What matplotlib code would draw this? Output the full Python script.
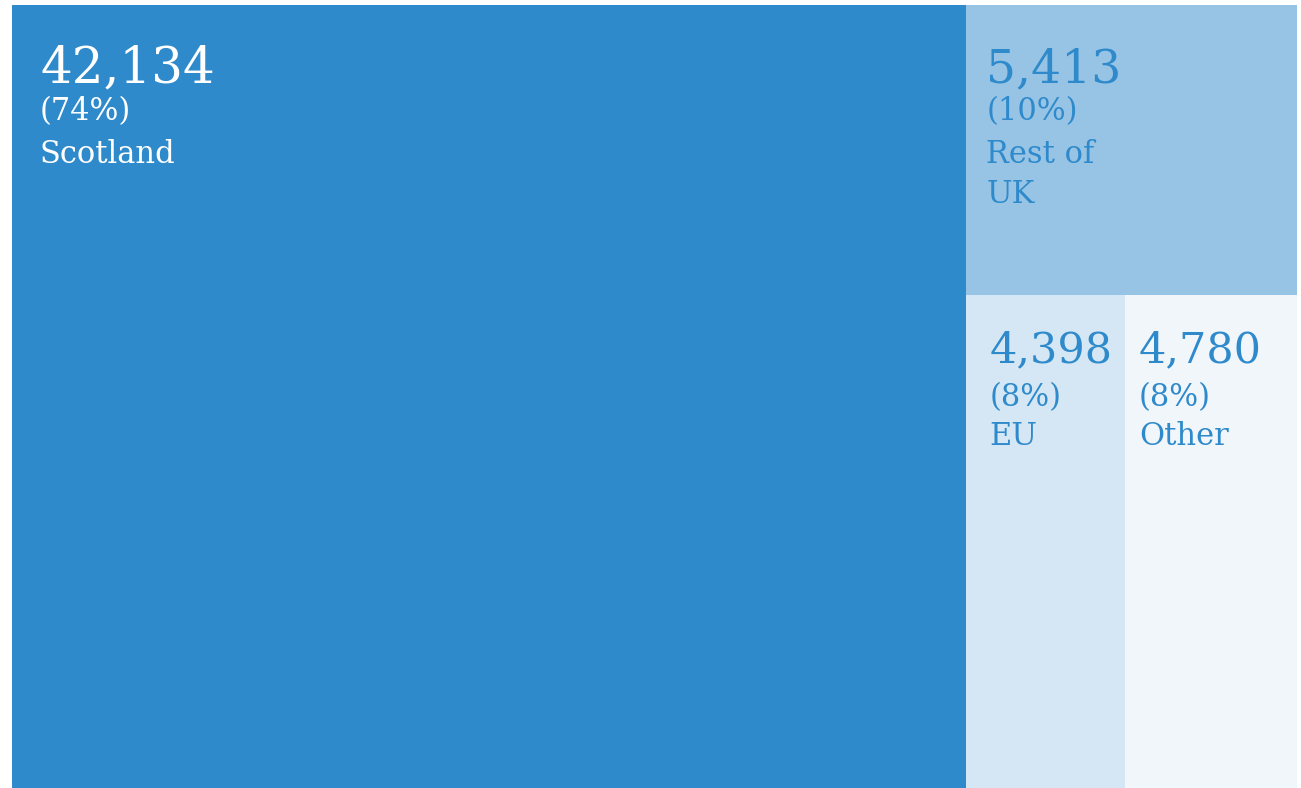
import textwrap
import matplotlib
matplotlib.use("Agg")
import matplotlib.pyplot as plt
from matplotlib.patches import Rectangle

# data
regions = ["Scotland", "Rest of UK", "EU", "Other"]
students = [42134, 5413, 4398, 4780]

# styles
fills = ["#2e8acb", "#97c4e5", "#d5e7f4", "#f1f6fb"]
text_colors = ["white", "#2e8acb", "#2e8acb", "#2e8acb"]
num_size = [36, 34, 31, 31]
label_size = 22
pad_px = [28, 20, 23, 14]
# baseline offsets (px from box top): number, percent, first label line
offsets = [(77, 115, 158), (77, 115, 158), (67, 111, 150), (67, 111, 150)]
line_gap = 40

total = sum(students)
pcts = [round(v / total * 100) for v in students]

plt.rcParams['font.family'] = ['DejaVu Serif']

fig = plt.figure(figsize=(13.01, 7.88), dpi=100)
ax = fig.add_axes([12 / 1301, 0, 1285 / 1301, 783 / 788])
ax.set_xlim(0, 1)
ax.set_ylim(0, 1)
ax.axis("off")

# layout: big block left, right column split top / bottom row
w0 = students[0] / total
rest = total - students[0]
h1 = students[1] / rest
bottom = students[2] + students[3]
w2 = (1 - w0) * students[2] / bottom

rects = [
    (0, 0, w0, 1),
    (w0, 1 - h1, 1 - w0, h1),
    (w0, 0, w2, 1 - h1),
    (w0 + w2, 0, 1 - w0 - w2, 1 - h1),
]

px = 72 / 100  # pixels -> points


def put(txt, x, y, dx, dy, fs, col):
    ax.annotate(txt, xy=(x, y), xycoords="data",
                xytext=(dx * px, -dy * px), textcoords="offset points",
                ha="left", va="baseline", fontsize=fs, color=col)


for i, (x, y, w, h) in enumerate(rects):
    ax.add_patch(Rectangle((x, y), w, h, facecolor=fills[i], edgecolor="none"))
    o_num, o_pct, o_lab = offsets[i]
    col = text_colors[i]
    put(f"{students[i]:,}", x, y + h, pad_px[i], o_num, num_size[i], col)
    put(f"({pcts[i]}%)", x, y + h, pad_px[i], o_pct, label_size, col)
    for k, line in enumerate(textwrap.wrap(regions[i], 8)):
        put(line, x, y + h, pad_px[i], o_lab + k * line_gap, label_size, col)

fig.savefig("out.png", dpi=100)
